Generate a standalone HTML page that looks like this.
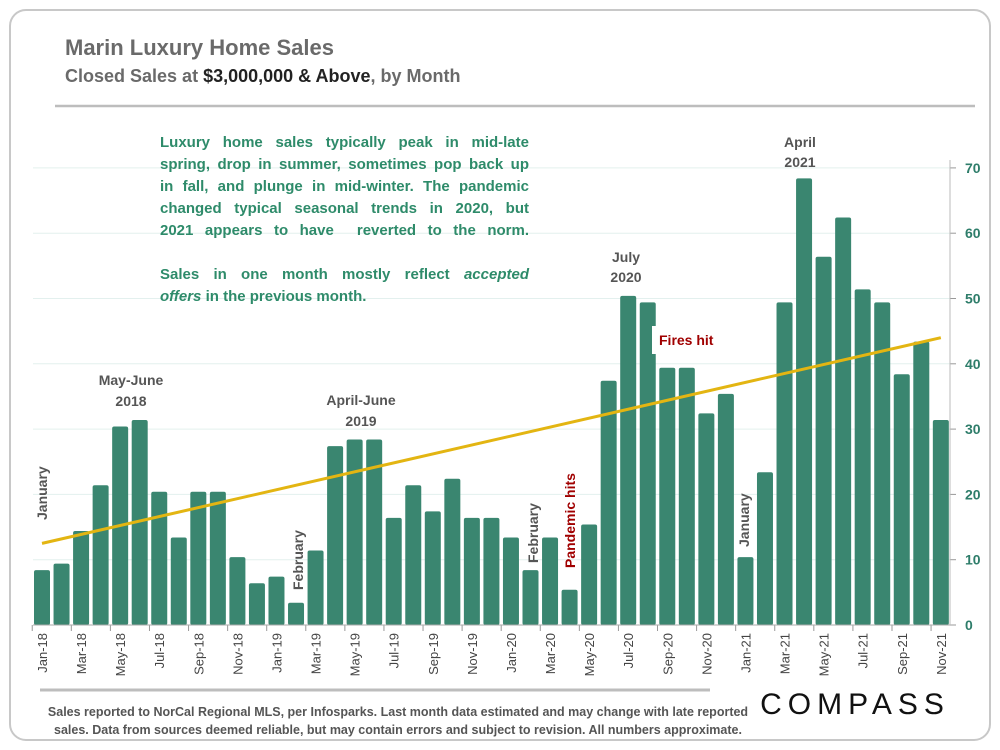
<!DOCTYPE html>
<html><head><meta charset="utf-8"><style>
body{margin:0;width:1000px;height:750px;background:#fff;font-family:"Liberation Sans",sans-serif;overflow:hidden;position:relative}
#note{position:absolute;left:160px;top:132px;width:369px;font-size:15px;font-weight:bold;color:#2e8b6a;line-height:22px}
#note div{text-align:justify;text-align-last:justify;white-space:nowrap;height:22px}
#note div.l{text-align-last:left}
</style></head><body>
<svg width="1000" height="750" xmlns="http://www.w3.org/2000/svg" id="chart" style="position:absolute;left:0;top:0">
<rect x="10" y="10" width="980" height="730" rx="16" fill="#fff" stroke="#c8c8c8" stroke-width="2"/>
<text x="65" y="55" font-size="22" font-weight="bold" fill="#6a6a6a">Marin Luxury Home Sales</text>
<text x="65" y="82" font-size="18" font-weight="bold" fill="#6a6a6a">Closed Sales at <tspan fill="#222">$3,000,000 &amp; Above</tspan>, by Month</text>
<line x1="55" y1="106" x2="975" y2="106" stroke="#bdbdbd" stroke-width="2.5"/>
<g id="grid"></g><g id="bars"></g><g id="xaxis"></g><g id="yaxis"></g><g id="trend"></g>
<g font-weight="bold" font-size="14" fill="#555" text-anchor="middle">
<text x="131" y="385">May-June</text>
<text x="131" y="406">2018</text>
<text x="361" y="405">April-June</text>
<text x="361" y="426">2019</text>
<text x="626" y="262">July</text>
<text x="626" y="282">2020</text>
<text x="800" y="147">April</text>
<text x="800" y="167">2021</text>
<text transform="translate(47,520) rotate(-90)" text-anchor="start">January</text>
<text transform="translate(303,590) rotate(-90)" text-anchor="start">February</text>
<text transform="translate(538,563) rotate(-90)" text-anchor="start">February</text>
<text transform="translate(749,547) rotate(-90)" text-anchor="start">January</text>
</g>
<rect x="652" y="326" width="70" height="28" fill="#fff"/>
<text x="659" y="345" font-size="14" font-weight="bold" fill="#a00000">Fires hit</text>
<text transform="translate(575,568) rotate(-90)" font-size="14" font-weight="bold" fill="#a00000">Pandemic hits</text>
<line x1="40" y1="690" x2="710" y2="690" stroke="#bdbdbd" stroke-width="3"/>
<g font-size="12.5" font-weight="bold" fill="#555" text-anchor="middle">
<text x="398" y="716">Sales reported to NorCal Regional MLS, per Infosparks. Last month data estimated and may change with late reported</text>
<text x="398" y="734">sales. Data from sources deemed reliable, but may contain errors and subject to revision. All numbers approximate.</text>
</g>
<text x="855" y="714" font-size="30" fill="#111" text-anchor="middle" letter-spacing="6">COMPASS</text>
</svg>
<div id="note">
<div>Luxury home sales typically peak in mid-late</div>
<div>spring, drop in summer, sometimes pop back up</div>
<div>in fall, and plunge in mid-winter. The pandemic</div>
<div>changed typical seasonal trends in 2020, but</div>
<div>2021 appears to have&nbsp; reverted to the norm.</div>
<div class="l"></div>
<div>Sales in one month mostly reflect <i>accepted</i></div>
<div class="l"><i>offers</i> in the previous month.</div>
</div>
<script>
const months=["Jan-18","Feb-18","Mar-18","Apr-18","May-18","Jun-18","Jul-18","Aug-18","Sep-18","Oct-18","Nov-18","Dec-18","Jan-19","Feb-19","Mar-19","Apr-19","May-19","Jun-19","Jul-19","Aug-19","Sep-19","Oct-19","Nov-19","Dec-19","Jan-20","Feb-20","Mar-20","Apr-20","May-20","Jun-20","Jul-20","Aug-20","Sep-20","Oct-20","Nov-20","Dec-20","Jan-21","Feb-21","Mar-21","Apr-21","May-21","Jun-21","Jul-21","Aug-21","Sep-21","Oct-21","Nov-21"];
const sales=[8,9,14,21,30,31,20,13,20,20,10,6,7,3,11,27,28,28,16,21,17,22,16,16,13,8,13,5,15,37,50,49,39,39,32,35,10,23,49,68,56,62,51,49,38,43,31];
const yTicks=[0,10,20,30,40,50,60,70];
const trendValues=[12.5,44];
const NS="http://www.w3.org/2000/svg";
const x0=42,step=19.54,bw=16;
function xs(i){return x0+i*step;}
function ys(v){return 625-v*6.53;}
function mk(tag,attrs,parent){const e=document.createElementNS(NS,tag);for(const k in attrs)e.setAttribute(k,attrs[k]);parent.appendChild(e);return e;}
const grid=document.getElementById('grid'),bars=document.getElementById('bars'),xa=document.getElementById('xaxis'),ya=document.getElementById('yaxis'),tr=document.getElementById('trend');
yTicks.forEach(t=>{
  if(t>0){const g=mk('line',{x1:33,x2:950,y1:ys(t),y2:ys(t),stroke:'#e3f0ee','stroke-width':1},grid);
  
  }
  const tk=mk('line',{x1:950,x2:956,y1:ys(t),y2:ys(t),stroke:'#999'},ya);
  
  
  const l=mk('text',{x:965,y:ys(t)+5,'font-size':14,'font-weight':'bold',fill:'#2e7d6a'},ya);
  l.textContent=t;
  
  
});
const ax=mk('line',{x1:950,x2:950,y1:160,y2:625,stroke:'#bbb'},ya);


sales.forEach((v,i)=>{
  const r=mk('rect',{x:xs(i)-bw/2,y:ys(v+0.4),width:bw,height:625-ys(v+0.4),rx:2,fill:'#3a8670'},bars);
  
  
  if(i%2===0){
    const t=mk('text',{transform:`translate(${xs(i)+5},633) rotate(-90)`,'font-size':13,fill:'#444','text-anchor':'end'},xa);
    t.textContent=months[i];
    
    
    const tk=mk('line',{x1:xs(i)-step/2,x2:xs(i)-step/2,y1:625,y2:631,stroke:'#999'},xa);
    
    
  }
});
const base=mk('line',{x1:33,x2:950,y1:625,y2:625,stroke:'#aaa'},xa);


const tl=mk('line',{x1:xs(0),y1:ys(trendValues[0]),x2:xs(sales.length-1),y2:ys(trendValues[1]),stroke:'#e3b512','stroke-width':3},tr);


</script>
</body></html>
